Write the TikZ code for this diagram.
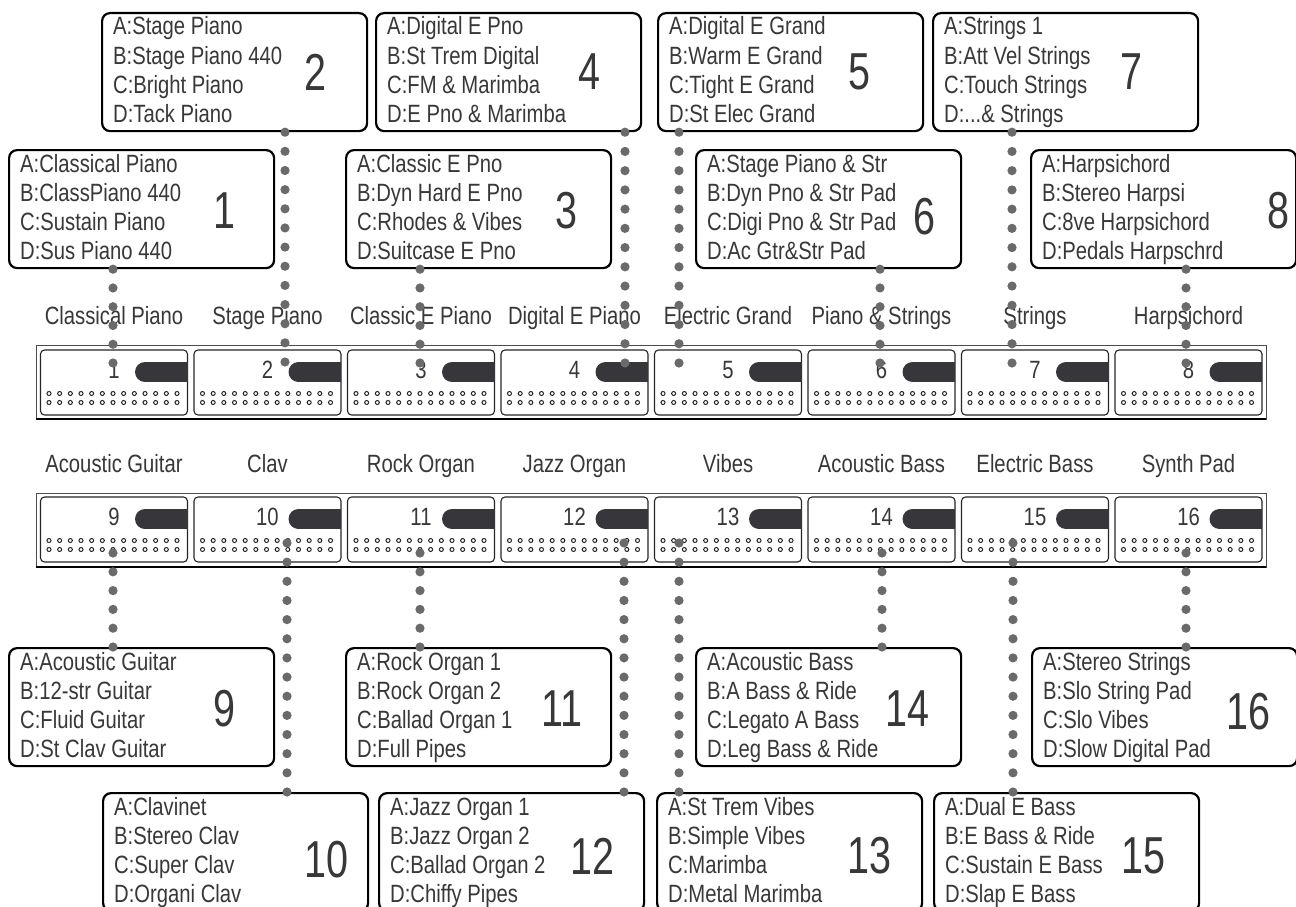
\documentclass[tikz,border=0pt]{standalone}
\usepackage{fontspec}
\setmainfont{Liberation Sans}[FakeStretch=0.81]
\newfontfamily\bigf{Liberation Sans}[FakeStretch=0.76]
\usetikzlibrary{calc}
\definecolor{txt}{HTML}{383838}
\definecolor{pillc}{HTML}{37373B}
\definecolor{dotc}{HTML}{6A6A6A}
\tikzset{
 lbl/.style={font=\fontsize{25}{29}\selectfont, text=txt, inner sep=0pt, anchor=base},
 boxtxt/.style={font=\fontsize{25}{29}\selectfont, text=txt, inner sep=0pt, anchor=base west},
 bignum/.style={font=\bigf\fontsize{52}{56}\selectfont, text=txt, inner sep=0pt},
 pbox/.style={draw=black, line width=2.2pt, rounded corners=8pt, minimum width=265pt, minimum height=118pt, inner sep=0pt, anchor=north west},
 btn/.style={draw=black!85, line width=1.1pt, rounded corners=4pt, minimum width=147pt, minimum height=65pt, inner sep=0pt},
 btndot/.style={draw=black!85, line width=1pt, fill=white},
 panel/.style={draw=black!70, line width=1pt},
 panelbase/.style={draw=black, line width=1.8pt},
}
\newcommand\pbx[8]{%
 \node[pbox] (#1) at (#2) {};
 \node[boxtxt] at ($(#1.north west)+(12,23)$) {#5};
 \node[boxtxt] at ($(#1.north west)+(12,52)$) {#6};
 \node[boxtxt] at ($(#1.north west)+(12,81)$) {#7};
 \node[boxtxt] at ($(#1.north west)+(12,110)$) {#8};
 \node[bignum] at ($(#1.north east)+(#4)$) {#3};
}
\newcommand\dotcon[3]{\foreach \j in {0,...,#3} \fill[dotc] ($(#1)!\j/#3!(#2)$) circle (4.6);}
\newcommand\btnrow[4]{% #1 first number, #2 y centre, #3 label baseline, #4 labels
 \foreach \lab [count=\m from 0] in {#4} {
  \pgfmathtruncatemacro\nn{#1+\m}
  \pgfmathsetmacro\cx{114+153.5*\m}
  \node[btn] (b\nn) at (\cx,#2) {};
  \fill[pillc] (\cx+31,#2-20.5) rectangle (\cx+73.5,#2-0.5);
  \fill[pillc] (\cx+31,#2-10.5) circle (10);
  \foreach \k in {0,...,12} {
   \draw[btndot] (\cx-65+10.667*\k,#2+11) circle (2);
   \draw[btndot] (\cx-65+10.667*\k,#2+20) circle (2);
  }
  \node[lbl] at (\cx,#2-4.5) {\nn};
  \node[lbl] at (\cx,#3) {\lab};
 }
}
\begin{document}
\begin{tikzpicture}[x=1pt,y=-1pt]
\useasboundingbox[fill=white] (0,0) rectangle (1296,907);
% panels
\draw[panel] (36,345) rectangle (1266,419);
\draw[panelbase] (36,419) -- (1266,419);
\draw[panel] (36,493) rectangle (1266,567);
\draw[panelbase] (36,567) -- (1266,567);
\btnrow{1}{382.5}{324}{Classical Piano,Stage Piano,Classic E Piano,Digital E Piano,Electric Grand,Piano \& Strings,Strings,Harpsichord}
\btnrow{9}{529.5}{472}{Acoustic Guitar,Clav,Rock Organ,Jazz Organ,Vibes,Acoustic Bass,Electric Bass,Synth Pad}
% boxes
\pbx{box1}{8,149}{1}{-51,62}{A:Classical Piano}{B:ClassPiano 440}{C:Sustain Piano}{D:Sus Piano 440}
\pbx{box2}{101,12}{2}{-53,60}{A:Stage Piano}{B:Stage Piano 440}{C:Bright Piano}{D:Tack Piano}
\pbx{box3}{345,149}{3}{-46,62}{A:Classic E Pno}{B:Dyn Hard E Pno}{C:Rhodes \& Vibes}{D:Suitcase E Pno}
\pbx{box4}{375,12}{4}{-53,60}{A:Digital E Pno}{B:St Trem Digital}{C:FM \& Marimba}{D:E Pno \& Marimba}
\pbx{box5}{657,12}{5}{-65,60}{A:Digital E Grand}{B:Warm E Grand}{C:Tight E Grand}{D:St Elec Grand}
\pbx{box6}{695,149}{6}{-38,68}{A:Stage Piano \& Str}{B:Dyn Pno \& Str Pad}{C:Digi Pno \& Str Pad}{D:Ac Gtr\&Str Pad}
\pbx{box7}{932,12}{7}{-68,60}{A:Strings 1}{B:Att Vel Strings}{C:Touch Strings}{D:...\& Strings}
\pbx{box8}{1030,149}{8}{-19,62}{A:Harpsichord}{B:Stereo Harpsi}{C:8ve Harpsichord}{D:Pedals Harpschrd}
\pbx{box9}{8,647}{9}{-51,62}{A:Acoustic Guitar}{B:12-str Guitar}{C:Fluid Guitar}{D:St Clav Guitar}
\pbx{box10}{102,792}{10}{-43,68}{A:Clavinet}{B:Stereo Clav}{C:Super Clav}{D:Organi Clav}
\pbx{box11}{345,647}{11}{-50,62}{A:Rock Organ 1}{B:Rock Organ 2}{C:Ballad Organ 1}{D:Full Pipes}
\pbx{box12}{378,792}{12}{-53,64}{A:Jazz Organ 1}{B:Jazz Organ 2}{C:Ballad Organ 2}{D:Chiffy Pipes}
\pbx{box13}{656,792}{13}{-54,64}{A:St Trem Vibes}{B:Simple Vibes}{C:Marimba}{D:Metal Marimba}
\pbx{box14}{695,647}{14}{-55,62}{A:Acoustic Bass}{B:A Bass \& Ride}{C:Legato A Bass}{D:Leg Bass \& Ride}
\pbx{box15}{933,792}{15}{-57,64}{A:Dual E Bass}{B:E Bass \& Ride}{C:Sustain E Bass}{D:Slap E Bass}
\pbx{box16}{1031,647}{16}{-50,65}{A:Stereo Strings}{B:Slo String Pad}{C:Slo Vibes}{D:Slow Digital Pad}
% connectors: boxes above the upper panel
\foreach \i/\xx/\yy/\n in {1/113/363/5, 2/285/362/12, 3/420/363/5, 4/625/363/12, 5/679/363/12, 6/880/363/5, 7/1012/363/12, 8/1186/363/5} {
 \coordinate (k\i) at (\xx,\yy);
 \coordinate (s\i) at (k\i |- box\i.south);
 \dotcon{s\i}{k\i}{\n}
}
% connectors: boxes below the lower panel
\foreach \i/\xx/\yy/\n in {9/113/553/5, 10/287/543/13, 11/420/553/5, 12/624/543/13, 13/679/543/13, 14/882/553/5, 15/1013/543/13, 16/1186/553/5} {
 \coordinate (k\i) at (\xx,\yy);
 \coordinate (s\i) at (k\i |- box\i.north);
 \dotcon{k\i}{s\i}{\n}
}
\end{tikzpicture}
\end{document}
